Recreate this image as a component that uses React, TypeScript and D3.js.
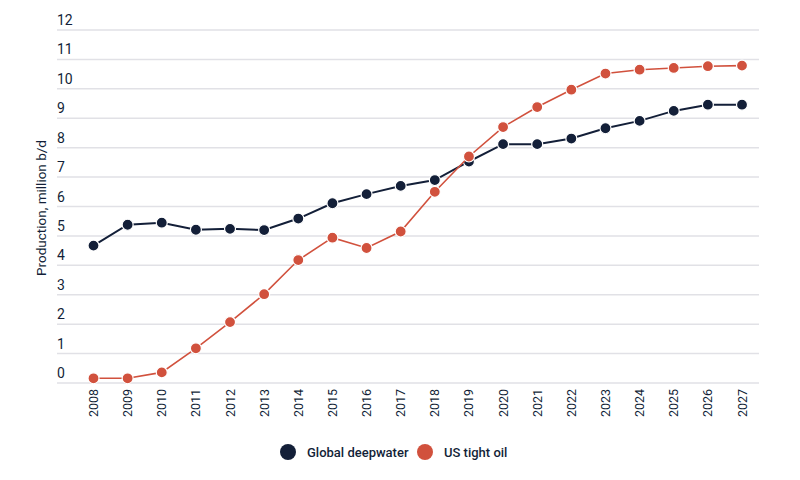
import { useEffect, useRef } from 'react';
import * as d3 from 'd3';

const years = [
  '2008', '2009', '2010', '2011', '2012', '2013', '2014', '2015', '2016', '2017',
  '2018', '2019', '2020', '2021', '2022', '2023', '2024', '2025', '2026', '2027',
];
const deepwater = [4.67, 5.38, 5.45, 5.21, 5.24, 5.2, 5.59, 6.11, 6.42, 6.7, 6.9, 7.53, 8.12, 8.12, 8.31, 8.66, 8.91, 9.25, 9.46, 9.46];
const tightOil = [0.16, 0.16, 0.36, 1.18, 2.07, 3.02, 4.18, 4.94, 4.59, 5.15, 6.5, 7.7, 8.7, 9.38, 9.97, 10.52, 10.65, 10.71, 10.77, 10.79];
const yTicks = [0, 1, 2, 3, 4, 5, 6, 7, 8, 9, 10, 11, 12];

const NAVY = '#131f38';
const RED = '#d1513d';
const FONT = 'Roboto, "Noto Sans", sans-serif';

export default function App() {
  const svgRef = useRef<SVGSVGElement>(null);

  useEffect(() => {
    document.body.style.margin = '0';
    if (!svgRef.current) return;
    const svg = d3.select(svgRef.current);
    svg.selectAll('*').remove();

    const gridLeft = 57;
    const gridRight = 759;

    const x = d3.scalePoint<string>().domain(years).range([93.5, 742]);
    const y = d3.scaleLinear().domain([0, 12]).range([383, 30]);

    // Grid lines + labels
    const grid = svg.append('g');
    grid
      .selectAll('line')
      .data(yTicks)
      .enter()
      .append('line')
      .attr('x1', gridLeft)
      .attr('x2', gridRight)
      .attr('y1', (d) => y(d))
      .attr('y2', (d) => y(d))
      .attr('stroke', '#e1e1e6')
      .attr('stroke-width', 1.5);
    grid
      .selectAll('text')
      .data(yTicks)
      .enter()
      .append('text')
      .attr('x', gridLeft)
      .attr('y', (d) => y(d) - 5)
      .attr('fill', NAVY)
      .attr('font-family', FONT)
      .attr('font-size', '14px')
      .text((d) => d);

    // Y title
    svg
      .append('text')
      .attr('transform', `translate(46,208) rotate(-90)`)
      .attr('text-anchor', 'middle')
      .attr('fill', NAVY)
      .attr('font-family', FONT)
      .attr('font-size', '13.5px')
      .text('Production, million b/d');

    // X labels
    svg
      .append('g')
      .selectAll('text')
      .data(years)
      .enter()
      .append('text')
      .attr('transform', (d) => `translate(${(x(d) || 0) + 4.5},389) rotate(-90)`)
      .attr('text-anchor', 'end')
      .attr('fill', NAVY)
      .attr('font-family', FONT)
      .attr('font-size', '12.5px')
      .text((d) => d);

    const series = [
      { name: 'Global deepwater', values: deepwater, color: NAVY, width: 2 },
      { name: 'US tight oil', values: tightOil, color: RED, width: 1.6 },
    ];

    const line = d3
      .line<number>()
      .x((_, i) => x(years[i]) || 0)
      .y((d) => y(d));

    series.forEach((s) => {
      const g = svg.append('g');
      g.append('path')
        .datum(s.values)
        .attr('fill', 'none')
        .attr('stroke', s.color)
        .attr('stroke-width', s.width)
        .attr('d', line);
      g.selectAll('circle')
        .data(s.values)
        .enter()
        .append('circle')
        .attr('cx', (_, i) => x(years[i]) || 0)
        .attr('cy', (d) => y(d))
        .attr('r', 5.5)
        .attr('fill', s.color)
        .attr('stroke', '#fff')
        .attr('stroke-width', 1.2);
    });

    // Legend
    const legend = svg.append('g');
    const items = [
      { name: 'Global deepwater', color: NAVY, cx: 288 },
      { name: 'US tight oil', color: RED, cx: 425 },
    ];
    items.forEach((it) => {
      legend.append('circle').attr('cx', it.cx).attr('cy', 452).attr('r', 8).attr('fill', it.color);
      legend
        .append('text')
        .attr('x', it.cx + 19)
        .attr('y', 456.5)
        .attr('fill', NAVY)
        .attr('font-family', FONT)
        .attr('font-size', '13px')
        .attr('font-weight', 500)
        .text(it.name);
    });
  }, []);

  return <svg ref={svgRef} width={800} height={480} style={{ display: 'block' }} />;
}
